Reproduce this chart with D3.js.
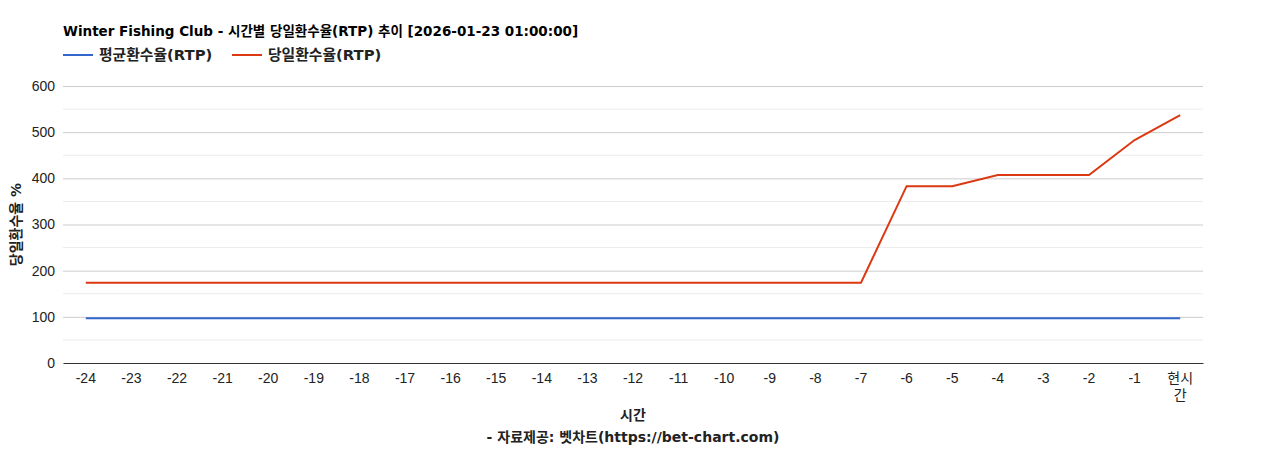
<!DOCTYPE html>
<html>
<head>
<meta charset="utf-8">
<script src="https://cdn.jsdelivr.net/npm/d3@7"></script>
<style>
    body { margin: 0; background: #fff; }
    svg { display: block; }
</style>
</head>
<body>
<svg></svg>
<script>
const hours = ['-24', '-23', '-22', '-21', '-20', '-19', '-18', '-17', '-16', '-15', '-14', '-13',
    '-12', '-11', '-10', '-9', '-8', '-7', '-6', '-5', '-4', '-3', '-2', '-1', '현시간'];
const avgRtp = [97, 97, 97, 97, 97, 97, 97, 97, 97, 97, 97, 97,
    97, 97, 97, 97, 97, 97, 97, 97, 97, 97, 97, 97, 97];
const dayRtp = [174, 174, 174, 174, 174, 174, 174, 174, 174, 174, 174, 174,
    174, 174, 174, 174, 174, 174, 383, 383, 407, 407, 407, 483, 537];
const yTicks = [0, 100, 200, 300, 400, 500, 600];
const seriesNames = ['평균환수율(RTP)', '당일환수율(RTP)'];
const colors = ['#3366cc', '#dc3912'];

let width = 1268;
let height = 450;
let margin = {left: 63, right: 65, top: 86, bottom: 87};
let innerWidth = width - margin.left - margin.right;
let innerHeight = height - margin.top - margin.bottom;
const font = '"DejaVu Sans", "Noto Sans CJK KR", sans-serif';
const tickFont = 'Arial, "Liberation Sans", "Noto Sans CJK KR", sans-serif';

let svg = d3.select('svg')
            .attr('width', width)
            .attr('height', height);

let focus = svg.append('g')
            .attr('transform', `translate(${margin.left}, ${margin.top})`);

let xScale = d3.scaleBand().domain(hours).range([0, innerWidth]);
let yScale = d3.scaleLinear().domain([0, 600]).range([innerHeight, 0]);

// minor grid
focus.append('g')
    .selectAll('line')
    .data(d3.range(50, 600, 100))
    .join('line')
    .attr('x1', 0).attr('x2', innerWidth)
    .attr('y1', d => yScale(d)).attr('y2', d => yScale(d))
    .attr('stroke', '#ebebeb');

// major grid + y axis
let yAxis = d3.axisLeft(yScale).tickValues(yTicks).tickSize(-innerWidth).tickPadding(8);
focus.append('g')
    .call(yAxis)
    .attr('font-family', tickFont).attr('font-size', 14)
    .call(g => g.select('.domain').remove())
    .call(g => g.selectAll('.tick line').attr('stroke', d => d === 0 ? 'none' : '#cccccc'))
    .call(g => g.selectAll('.tick text').attr('fill', '#222'));

// x axis
let xAxis = d3.axisBottom(xScale).tickSize(0).tickPadding(10);
let xg = focus.append('g')
    .attr('transform', `translate(0, ${innerHeight})`)
    .call(xAxis)
    .attr('font-family', tickFont).attr('font-size', 14)
    .call(g => g.select('.domain').attr('stroke', '#333'))
    .call(g => g.selectAll('.tick text').attr('fill', '#222'));
xg.selectAll('.tick text')
    .filter(d => d === '현시간')
    .text(null)
    .call(t => {
        t.append('tspan').attr('x', 0).attr('dy', '0.71em').text('현시');
        t.append('tspan').attr('x', 0).attr('dy', '1.25em').text('간');
    })
    .attr('dy', null);

// lines
let line = d3.line()
    .x((d, i) => xScale(hours[i]) + xScale.bandwidth() / 2)
    .y(d => yScale(d));

[avgRtp, dayRtp].forEach((values, i) => {
    focus.append('path')
        .datum(values)
        .attr('fill', 'none')
        .attr('stroke', colors[i])
        .attr('stroke-width', 2)
        .attr('d', line);
});

function label(sel, size) {
    return sel.attr('font-family', font)
        .attr('font-size', size).attr('font-weight', 'bold')
        .attr('fill', '#222');
}

// title
svg.append('text')
    .attr('x', 63).attr('y', 36)
    .call(label, 13.5)
    .attr('fill', '#000')
    .text('Winter Fishing Club - 시간별 당일환수율(RTP) 추이 [2026-01-23 01:00:00]');

// legend
let legendX = [63, 232];
seriesNames.forEach((name, i) => {
    let g = svg.append('g').attr('transform', `translate(${legendX[i]}, 55)`);
    g.append('line')
        .attr('x1', 0).attr('x2', 30)
        .attr('stroke', colors[i]).attr('stroke-width', 2);
    g.append('text')
        .attr('x', 36).attr('y', 5)
        .call(label, 14.8)
        .text(name);
});

// axis titles
svg.append('text')
    .attr('transform', `translate(21, ${margin.top + innerHeight / 2}) rotate(-90)`)
    .attr('text-anchor', 'middle')
    .call(label, 14)
    .text('당일환수율 %');

svg.append('text')
    .attr('x', margin.left + innerWidth / 2).attr('y', 420)
    .attr('text-anchor', 'middle')
    .call(label, 14)
    .text('시간');

svg.append('text')
    .attr('x', margin.left + innerWidth / 2).attr('y', 442)
    .attr('text-anchor', 'middle')
    .call(label, 14)
    .text('- 자료제공: 벳차트(https://bet-chart.com)');
</script>
</body>
</html>
